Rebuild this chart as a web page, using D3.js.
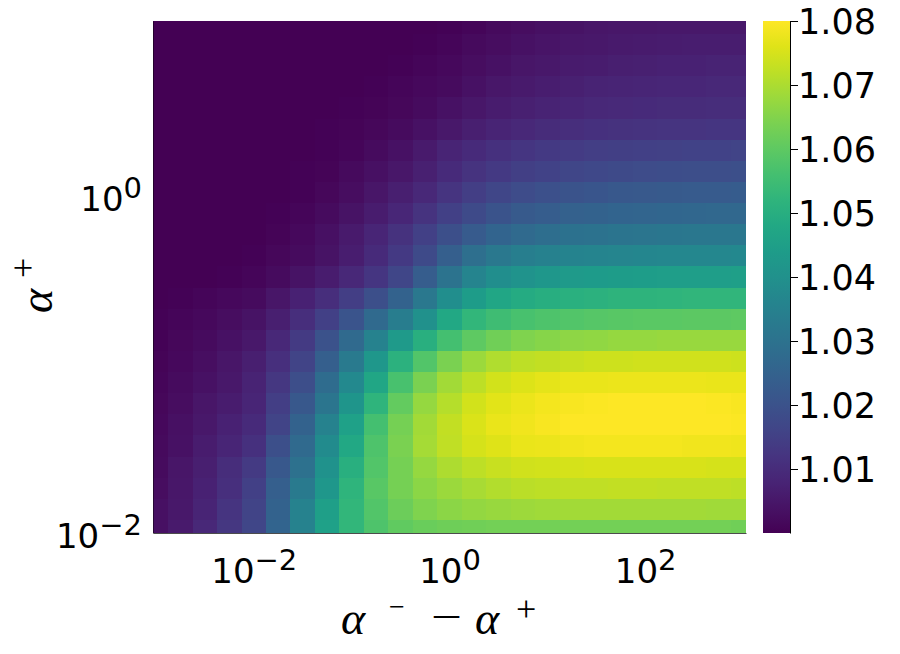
<!DOCTYPE html>
<html>
<head>
<meta charset="utf-8">
<script src="https://cdn.jsdelivr.net/npm/d3@7"></script>
<style>
  body { margin: 0; background: #fff; }
  svg { display: block; }
</style>
</head>
<body>
<div id="chart"></div>
<script>
// x: alpha^- - alpha^+ (log grid, quarter decades)
const xVals = [0.001, 0.00178, 0.00316, 0.00562, 0.01, 0.0178, 0.0316, 0.0562, 0.1, 0.178, 0.316, 0.562,
  1, 1.78, 3.16, 5.62, 10, 17.8, 31.6, 56.2, 100, 178, 316, 562, 1000];
// y: alpha^+ (top row first)
const yVals = [10, 7.499, 5.623, 4.217, 3.162, 2.371, 1.778, 1.334, 1, 0.7499, 0.5623, 0.4217, 0.3162,
  0.2371, 0.1778, 0.1334, 0.1, 0.07499, 0.05623, 0.04217, 0.03162, 0.02371, 0.01778, 0.01334, 0.01];
// values, one row per yVals entry
const zRows = [
  [1.0000,1.0000,1.0000,1.0000,1.0000,1.0000,1.0000,1.0000,1.0000,1.0001,1.0002,1.0002,1.0004,1.0012,1.0020,1.0028,1.0034,1.0040,1.0044,1.0047,1.0050,1.0051,1.0052,1.0052,1.0052],
  [1.0000,1.0000,1.0000,1.0000,1.0000,1.0000,1.0000,1.0000,1.0000,1.0002,1.0003,1.0006,1.0010,1.0019,1.0028,1.0036,1.0042,1.0048,1.0053,1.0056,1.0059,1.0062,1.0063,1.0064,1.0064],
  [1.0000,1.0000,1.0000,1.0000,1.0000,1.0000,1.0000,1.0000,1.0001,1.0003,1.0006,1.0010,1.0016,1.0026,1.0036,1.0044,1.0052,1.0058,1.0062,1.0066,1.0070,1.0072,1.0074,1.0076,1.0076],
  [1.0000,1.0000,1.0000,1.0000,1.0000,1.0000,1.0000,1.0001,1.0002,1.0006,1.0010,1.0016,1.0024,1.0036,1.0048,1.0056,1.0064,1.0070,1.0075,1.0080,1.0083,1.0086,1.0087,1.0088,1.0088],
  [1.0000,1.0000,1.0000,1.0000,1.0000,1.0000,1.0001,1.0002,1.0005,1.0009,1.0014,1.0024,1.0036,1.0048,1.0060,1.0069,1.0077,1.0084,1.0088,1.0092,1.0095,1.0098,1.0099,1.0100,1.0100],
  [1.0000,1.0000,1.0000,1.0000,1.0000,1.0000,1.0002,1.0004,1.0007,1.0013,1.0024,1.0036,1.0052,1.0068,1.0080,1.0090,1.0098,1.0105,1.0110,1.0114,1.0117,1.0119,1.0121,1.0122,1.0122],
  [1.0000,1.0000,1.0000,1.0000,1.0000,1.0001,1.0002,1.0006,1.0012,1.0024,1.0036,1.0054,1.0080,1.0096,1.0110,1.0122,1.0132,1.0138,1.0144,1.0148,1.0152,1.0154,1.0157,1.0158,1.0160],
  [1.0000,1.0000,1.0000,1.0000,1.0000,1.0002,1.0004,1.0009,1.0020,1.0034,1.0050,1.0070,1.0096,1.0116,1.0134,1.0148,1.0159,1.0168,1.0174,1.0179,1.0183,1.0186,1.0189,1.0190,1.0192],
  [1.0000,1.0000,1.0000,1.0000,1.0001,1.0002,1.0006,1.0014,1.0028,1.0045,1.0066,1.0090,1.0120,1.0146,1.0166,1.0182,1.0194,1.0204,1.0211,1.0217,1.0221,1.0224,1.0226,1.0228,1.0229],
  [1.0000,1.0000,1.0000,1.0000,1.0002,1.0004,1.0010,1.0022,1.0040,1.0062,1.0086,1.0116,1.0152,1.0181,1.0204,1.0222,1.0234,1.0244,1.0250,1.0255,1.0259,1.0262,1.0265,1.0266,1.0267],
  [1.0000,1.0000,1.0000,1.0001,1.0003,1.0007,1.0016,1.0032,1.0054,1.0082,1.0114,1.0152,1.0192,1.0228,1.0254,1.0274,1.0287,1.0297,1.0303,1.0308,1.0311,1.0314,1.0316,1.0318,1.0318],
  [1.0000,1.0001,1.0002,1.0003,1.0006,1.0013,1.0024,1.0040,1.0064,1.0096,1.0132,1.0180,1.0240,1.0288,1.0320,1.0338,1.0350,1.0357,1.0362,1.0365,1.0367,1.0369,1.0370,1.0371,1.0372],
  [1.0001,1.0002,1.0003,1.0006,1.0012,1.0022,1.0038,1.0060,1.0088,1.0124,1.0168,1.0232,1.0304,1.0360,1.0392,1.0412,1.0424,1.0432,1.0437,1.0440,1.0442,1.0444,1.0446,1.0446,1.0447],
  [1.0002,1.0006,1.0011,1.0018,1.0024,1.0044,1.0072,1.0104,1.0144,1.0192,1.0248,1.0320,1.0392,1.0440,1.0472,1.0488,1.0500,1.0508,1.0512,1.0516,1.0518,1.0520,1.0522,1.0522,1.0523],
  [1.0004,1.0010,1.0016,1.0027,1.0040,1.0068,1.0104,1.0152,1.0208,1.0272,1.0336,1.0400,1.0480,1.0528,1.0552,1.0568,1.0578,1.0584,1.0589,1.0592,1.0594,1.0596,1.0598,1.0598,1.0600],
  [1.0006,1.0013,1.0022,1.0036,1.0052,1.0088,1.0136,1.0200,1.0272,1.0352,1.0432,1.0504,1.0560,1.0600,1.0628,1.0644,1.0656,1.0664,1.0668,1.0672,1.0674,1.0676,1.0677,1.0678,1.0678],
  [1.0008,1.0018,1.0029,1.0046,1.0068,1.0108,1.0160,1.0240,1.0328,1.0424,1.0512,1.0584,1.0640,1.0680,1.0704,1.0720,1.0728,1.0734,1.0738,1.0740,1.0742,1.0742,1.0742,1.0742,1.0740],
  [1.0011,1.0022,1.0036,1.0052,1.0076,1.0128,1.0188,1.0280,1.0376,1.0472,1.0568,1.0640,1.0688,1.0720,1.0744,1.0758,1.0766,1.0772,1.0775,1.0777,1.0778,1.0778,1.0777,1.0774,1.0772],
  [1.0014,1.0028,1.0044,1.0062,1.0084,1.0144,1.0216,1.0312,1.0416,1.0520,1.0608,1.0672,1.0712,1.0744,1.0764,1.0778,1.0786,1.0792,1.0795,1.0797,1.0798,1.0798,1.0797,1.0794,1.0792],
  [1.0016,1.0032,1.0052,1.0072,1.0096,1.0160,1.0248,1.0352,1.0456,1.0560,1.0632,1.0688,1.0728,1.0756,1.0772,1.0784,1.0792,1.0798,1.0800,1.0800,1.0800,1.0800,1.0799,1.0797,1.0794],
  [1.0020,1.0036,1.0060,1.0084,1.0112,1.0192,1.0272,1.0384,1.0480,1.0576,1.0640,1.0692,1.0724,1.0748,1.0762,1.0772,1.0778,1.0782,1.0785,1.0786,1.0786,1.0785,1.0784,1.0782,1.0780],
  [1.0024,1.0044,1.0068,1.0100,1.0136,1.0216,1.0296,1.0408,1.0504,1.0584,1.0632,1.0672,1.0700,1.0720,1.0732,1.0741,1.0746,1.0750,1.0752,1.0753,1.0753,1.0752,1.0751,1.0750,1.0748],
  [1.0028,1.0048,1.0072,1.0108,1.0152,1.0240,1.0328,1.0424,1.0520,1.0592,1.0632,1.0660,1.0680,1.0696,1.0708,1.0716,1.0720,1.0723,1.0725,1.0726,1.0726,1.0725,1.0724,1.0722,1.0720],
  [1.0032,1.0052,1.0080,1.0120,1.0160,1.0248,1.0352,1.0448,1.0528,1.0584,1.0620,1.0644,1.0660,1.0670,1.0678,1.0682,1.0686,1.0688,1.0689,1.0690,1.0690,1.0689,1.0688,1.0686,1.0685],
  [1.0032,1.0056,1.0088,1.0128,1.0168,1.0256,1.0352,1.0456,1.0528,1.0576,1.0604,1.0618,1.0624,1.0627,1.0629,1.0630,1.0630,1.0630,1.0630,1.0630,1.0630,1.0630,1.0630,1.0629,1.0628]
];
const xTicks = [0.01, 1, 100];
const yTicks = [0.01, 1];
const cbTicks = [1.01, 1.02, 1.03, 1.04, 1.05, 1.06, 1.07, 1.08];
const cbRange = [1.0, 1.08];

const w = 900, h = 654;
const plot = {left: 153, right: 746, top: 21, bottom: 533};
const bar = {left: 763, right: 790};
const tickFont = "DejaVu Sans";

const svg = d3.select("#chart").append("svg")
  .attr("width", w)
  .attr("height", h);

const x = d3.scaleLog()
  .domain([Math.pow(10, -3.03), Math.pow(10, 3.03)])
  .range([plot.left, plot.right]);
const y = d3.scaleLog()
  .domain([Math.pow(10, -2.015), Math.pow(10, 1.015)])
  .range([plot.bottom, plot.top]);
const color = d3.scaleSequential(d3.interpolateViridis).domain(cbRange);

// cell edges half way (in log) between neighbouring grid points
const xLo = (i) => i === 0 ? x.domain()[0] : Math.sqrt(xVals[i - 1] * xVals[i]);
const xHi = (i) => i === xVals.length - 1 ? x.domain()[1] : Math.sqrt(xVals[i] * xVals[i + 1]);
const yTop = (j) => j === 0 ? y.domain()[1] : Math.sqrt(yVals[j - 1] * yVals[j]);
const yBot = (j) => j === yVals.length - 1 ? y.domain()[0] : Math.sqrt(yVals[j] * yVals[j + 1]);

const cells = zRows.flatMap((row, j) => row.map((v, i) => ({i: i, j: j, v: v})));

svg.append("g")
  .attr("class", "heatmap")
  .selectAll("rect")
  .data(cells)
  .enter()
  .append("rect")
  .attr("x", (d) => x(xLo(d.i)))
  .attr("y", (d) => y(yTop(d.j)))
  .attr("width", (d) => x(xHi(d.i)) - x(xLo(d.i)))
  .attr("height", (d) => y(yBot(d.j)) - y(yTop(d.j)))
  .attr("fill", (d) => color(d.v))
  .attr("shape-rendering", "crispEdges");

// 10^n labels with a raised exponent
function powerLabel(sel) {
  sel.each(function (d) {
    const t = d3.select(this);
    const e = Math.round(Math.log10(d));
    t.text(null);
    t.append("tspan").text("10");
    t.append("tspan")
      .attr("dy", -13)
      .attr("font-size", 29)
      .text(e < 0 ? "\u2212" + (-e) : String(e));
  });
}

// x axis
const gx = svg.append("g")
  .attr("transform", "translate(0," + plot.bottom + ")")
  .call(d3.axisBottom(x).tickValues(xTicks).tickSize(0).tickSizeOuter(0).tickFormat(() => ""));
gx.select(".domain").attr("stroke", "#000").attr("stroke-opacity", 0.7);
gx.selectAll(".tick text")
  .attr("y", 50)
  .attr("dy", 0)
  .attr("font-family", tickFont)
  .attr("font-size", 34)
  .attr("fill", "#000")
  .call(powerLabel);

// y axis
const gy = svg.append("g")
  .attr("transform", "translate(" + plot.left + ",0)")
  .call(d3.axisLeft(y).tickValues(yTicks).tickSize(0).tickSizeOuter(0).tickFormat(() => ""));
gy.select(".domain").attr("stroke", "#000").attr("stroke-opacity", 0.45);
gy.selectAll(".tick text")
  .attr("x", -11)
  .attr("y", 17.5)
  .attr("dy", 0)
  .attr("font-family", tickFont)
  .attr("font-size", 34)
  .attr("fill", "#000")
  .attr("text-anchor", "end")
  .call(powerLabel);

// colour bar
const cb = d3.scaleLinear().domain(cbRange).range([plot.bottom, plot.top]);
const grad = svg.append("defs").append("linearGradient")
  .attr("id", "viridis")
  .attr("x1", 0).attr("y1", 1).attr("x2", 0).attr("y2", 0);
grad.selectAll("stop")
  .data(d3.range(0, 1.0001, 0.05))
  .enter().append("stop")
  .attr("offset", (d) => d)
  .attr("stop-color", (d) => d3.interpolateViridis(d));
svg.append("rect")
  .attr("x", bar.left)
  .attr("y", plot.top)
  .attr("width", bar.right - bar.left)
  .attr("height", plot.bottom - plot.top)
  .attr("fill", "url(#viridis)");
const gc = svg.append("g")
  .attr("transform", "translate(" + bar.right + ",0)")
  .call(d3.axisRight(cb).tickValues(cbTicks).tickSize(8).tickSizeOuter(0).tickFormat(d3.format(".2f")));
gc.select(".domain").attr("stroke", "#000");
gc.selectAll(".tick line").attr("stroke", "#000");
gc.selectAll(".tick text")
  .attr("x", 8)
  .attr("dy", "0.36em")
  .attr("font-family", tickFont)
  .attr("font-size", 35)
  .attr("fill", "#000");

// axis titles
const serif = "Liberation Serif";
const xt = svg.append("g").attr("font-family", serif).attr("fill", "#000");
xt.append("text").attr("x", 341).attr("y", 634).attr("font-size", 46).attr("font-style", "italic").text("\u03b1");
xt.append("text").attr("x", 389).attr("y", 616).attr("font-size", 28).text("\u2212");
xt.append("text").attr("x", 431).attr("y", 630).attr("font-size", 40)
  .attr("textLength", 31).attr("lengthAdjust", "spacingAndGlyphs").text("\u2212");
xt.append("text").attr("x", 475).attr("y", 634).attr("font-size", 46).attr("font-style", "italic").text("\u03b1");
xt.append("text").attr("x", 516).attr("y", 621).attr("font-size", 36).text("+");

const yt = svg.append("g")
  .attr("font-family", serif).attr("fill", "#000")
  .attr("transform", "translate(52,313) rotate(-90)");
yt.append("text").attr("x", 0).attr("y", 0).attr("font-size", 46).attr("font-style", "italic").text("\u03b1");
yt.append("text").attr("x", 35).attr("y", -17).attr("font-size", 36).text("+");
</script>
</body>
</html>
